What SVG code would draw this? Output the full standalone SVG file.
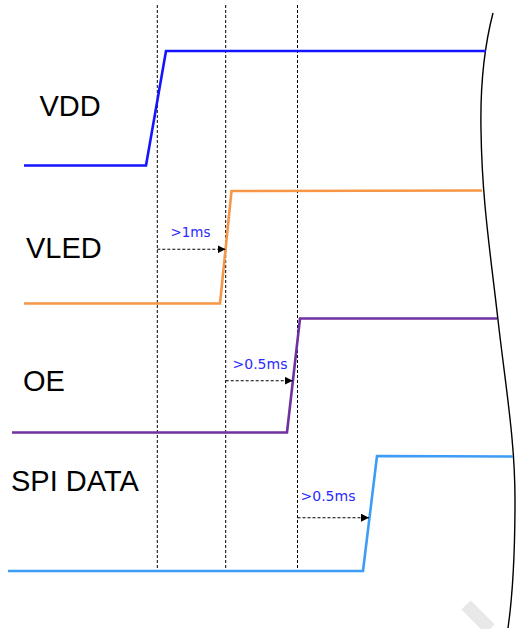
<svg xmlns="http://www.w3.org/2000/svg" width="516" height="629" viewBox="0 0 516 629">
<style>
.lbl{font-family:"Liberation Sans",Arial,sans-serif;font-size:29px;fill:#000}
.t{font-family:"DejaVu Sans",Verdana,sans-serif;font-size:13.5px;fill:#2a2aff}
.sig{fill:none;stroke-width:2.6;stroke-linejoin:miter}
.grid{stroke:#000;stroke-width:1;stroke-dasharray:3 2;fill:none}
.arr{stroke:#000;stroke-width:1.1;stroke-dasharray:3 2;fill:none}
</style>
<defs>
<marker id="ah" viewBox="0 0 10 10" refX="10" refY="5" markerWidth="8" markerHeight="8" markerUnits="userSpaceOnUse" orient="auto">
<path d="M0,0 L10,5 L0,10 Z" fill="#000"/>
</marker>
</defs>
<rect width="516" height="629" fill="#fff"/>
<path d="M466,605 L490,629" stroke="#e8e8e8" stroke-width="13" fill="none"/>
<g id="gridlines">
<line class="grid" x1="157.3" y1="5" x2="157.3" y2="571"/>
<line class="grid" x1="225.7" y1="5" x2="225.7" y2="571"/>
<line class="grid" x1="297.5" y1="5" x2="297.5" y2="571"/>
</g>
<g id="break">
<path d="M493,13 C486,40 480,80 481,130 C482,200 490,250 498,320 C506,390 515,440 515,500 C515,560 512,600 508,628" fill="none" stroke="#000" stroke-width="1.4"/>
</g>
<g id="vdd">
<text class="lbl" x="39.5" y="116">VDD</text>
<polyline class="sig" stroke="#1414ff" points="24,165.5 146,165.5 166,51 486,51"/>
</g>
<g id="vled">
<text class="lbl" x="26" y="258">VLED</text>
<polyline class="sig" stroke="#f79646" points="24,303.5 220,303.5 231.5,191 482,190.5"/>
</g>
<g id="oe">
<text class="lbl" x="23" y="391">OE</text>
<polyline class="sig" stroke="#7030a0" points="12,432.5 287,432.5 300,318.5 497,318.5"/>
</g>
<g id="spi">
<text class="lbl" x="11" y="490.5">SPI DATA</text>
<polyline class="sig" stroke="#3d9cf5" points="8,571 363,571 377,456 513,456.5"/>
</g>
<g id="connectors">
<line class="arr" x1="157.3" y1="249.3" x2="225.5" y2="249.3" marker-end="url(#ah)"/>
<line class="arr" x1="225.7" y1="380.7" x2="292.8" y2="380.7" marker-end="url(#ah)"/>
<line class="arr" x1="297.5" y1="517.7" x2="369" y2="517.7" marker-end="url(#ah)"/>
</g>
<g id="labels">
<text class="t" x="170.5" y="237" textLength="40" lengthAdjust="spacingAndGlyphs">&gt;1ms</text>
<text class="t" x="232.5" y="369" textLength="55" lengthAdjust="spacingAndGlyphs">&gt;0.5ms</text>
<text class="t" x="300.5" y="501" textLength="55" lengthAdjust="spacingAndGlyphs">&gt;0.5ms</text>
</g>
</svg>
